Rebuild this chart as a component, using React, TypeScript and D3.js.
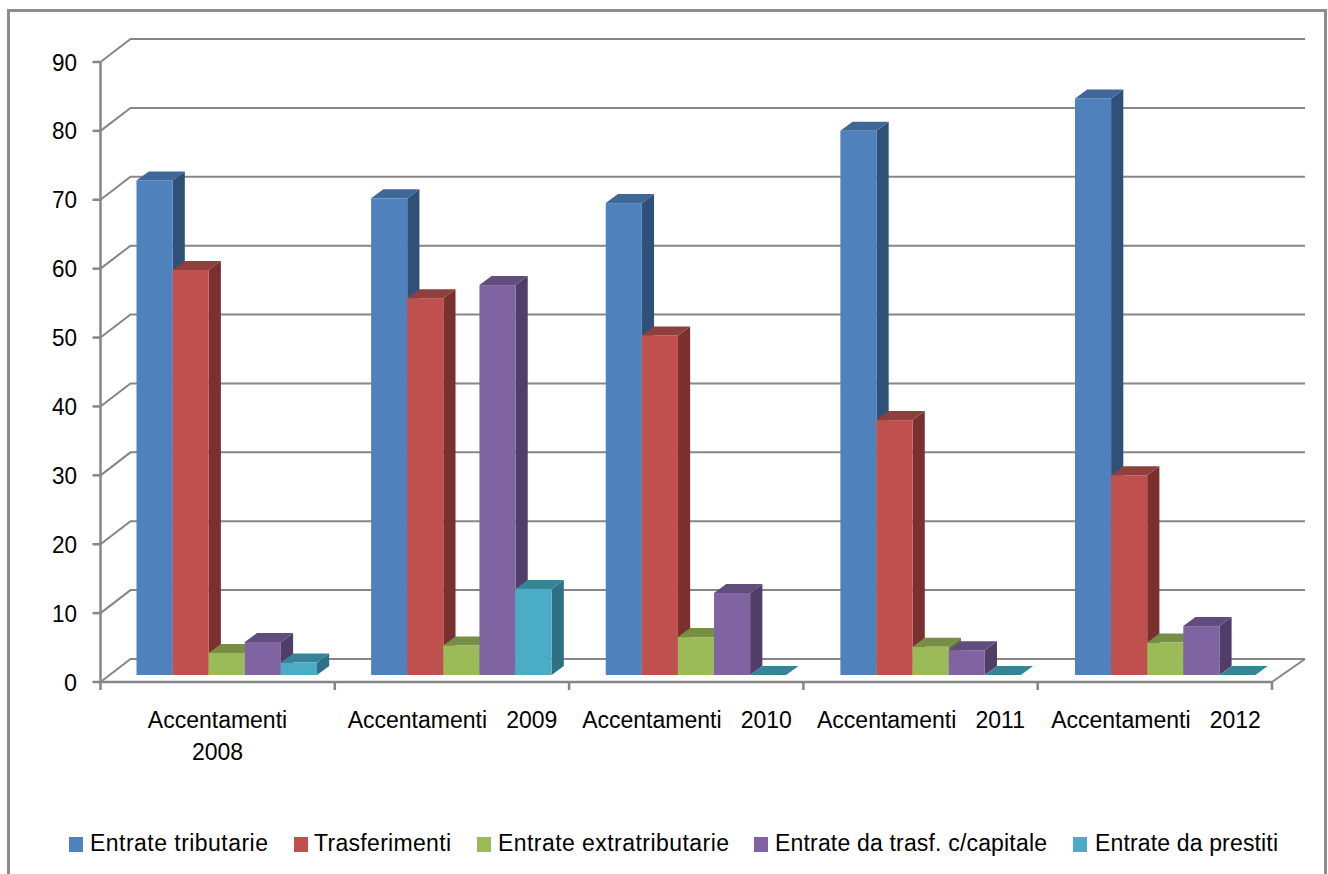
import React from "react";
import * as d3 from "d3";

const categories = ["Accentamenti 2008", "Accentamenti 2009", "Accentamenti 2010", "Accentamenti 2011", "Accentamenti 2012"];
const tributarie = [71.8, 69.2, 68.5, 79, 83.7];
const trasferimenti = [58.8, 54.7, 49.3, 37, 29];
const extratributarie = [3.2, 4.3, 5.5, 4.1, 4.7];
const trasfCapitale = [4.8, 56.6, 11.9, 3.6, 7.1];
const prestiti = [1.8, 12.5, 0, 0, 0];
const yTicks = [0, 10, 20, 30, 40, 50, 60, 70, 80, 90];

const series = [
  { name: "Entrate tributarie", values: tributarie, front: "#4f81bd", top: "#3f6797", side: "#2f5079", sw: 69, tx: 90, tw: 178 },
  { name: "Trasferimenti", values: trasferimenti, front: "#c0504d", top: "#8f3f3c", side: "#7a302e", sw: 294, tx: 314, tw: 137 },
  { name: "Entrate extratributarie", values: extratributarie, front: "#9bbb59", top: "#778f45", side: "#647a38", sw: 477, tx: 498, tw: 231 },
  { name: "Entrate da trasf. c/capitale", values: trasfCapitale, front: "#8064a2", top: "#624c7d", side: "#513e68", sw: 754, tx: 775, tw: 272 },
  { name: "Entrate da prestiti", values: prestiti, front: "#4bacc6", top: "#378499", side: "#2f7184", sw: 1073, tx: 1095, tw: 183 },
];

const W = 1328, H = 874;
const FONT = "'Liberation Sans', Arial, sans-serif";
const GRID = "#868686";

// Oblique projection of the 3D wall and of the column boxes
const wall = { dx: 30, dy: -23 };
const floorInset = -7;
const box = { dx: 12.2, dy: -9 };

const y = d3.scaleLinear().domain([0, 90]).range([682, 62]);
const x = d3.scaleBand<number>().domain(d3.range(categories.length)).range([100.5, 1272]);
// Column clusters sit on a slightly wider pitch than the axis ticks
const cluster = d3.scaleLinear().domain([0, 4]).range([136.5, 1075]);
const barW = 36.1;

const poly = (pts: [number, number][]) => {
  const p = d3.path();
  pts.forEach(([a, b], i) => (i ? p.lineTo(a, b) : p.moveTo(a, b)));
  p.closePath();
  return p.toString();
};

const catLines = [["Accentamenti", "2008"], ["Accentamenti   2009"], ["Accentamenti   2010"], ["Accentamenti   2011"], ["Accentamenti   2012"]];
const catCenters = [217.5, 452.5, 687, 921, 1156];

export default function App() {
  const x0 = x.range()[0];
  const x1 = x.range()[1];
  return (
    <svg width={W} height={H} style={{ position: "absolute", left: 0, top: 0, background: "#fff" }} fontFamily={FONT}>
      <path d={`M8.5,${H}V10.5H1325.5V${H}`} fill="none" stroke="#8c8c8c" strokeWidth={3} />

      {/* back wall gridlines and their diagonal returns */}
      {yTicks.map((t) => (
        <g key={t} stroke={GRID} strokeWidth={2} fill="none">
          <path d={`M${x0},${y(t)}L${x0 + wall.dx},${y(t) + wall.dy}H${x1 + wall.dx + 3}`} />
          <line x1={x0 - 8} x2={x0} y1={y(t)} y2={y(t)} strokeWidth={2.5} />
        </g>
      ))}
      <path d={`M${x1},${y(0)}L${x1 + wall.dx + 3},${y(0) + wall.dy}`} stroke={GRID} strokeWidth={2} fill="none" />

      {/* axes */}
      <line x1={x0} x2={x0} y1={y(90)} y2={y(0) + 8} stroke={GRID} strokeWidth={2.5} />
      <line x1={x0} x2={x1} y1={y(0)} y2={y(0)} stroke={GRID} strokeWidth={2.5} />
      {categories.map((_, i) => (
        <line key={i} x1={x(i)! + x.bandwidth()} x2={x(i)! + x.bandwidth()} y1={y(0)} y2={y(0) + 8} stroke={GRID} strokeWidth={2.5} />
      ))}

      {yTicks.map((t) => (
        <text key={t} x={77} y={y(t) + 8.5} textAnchor="end" fontSize={24} fill="#000" textLength={t === 0 ? 13 : 25} lengthAdjust="spacingAndGlyphs">{t}</text>
      ))}

      {/* columns, painted left to right so each one overlaps its neighbour's side */}
      {categories.map((_, i) =>
        series.map((s, j) => {
          const v = s.values[i];
          const l = cluster(i) + j * barW;
          const r = l + barW;
          const b = y(0) + floorInset;
          const t = y(v) + floorInset;
          return (
            <g key={s.name + i}>
              {v > 0 && <path d={poly([[r, t], [r + box.dx, t + box.dy], [r + box.dx, b + box.dy], [r, b]])} fill={s.side} />}
              <path d={poly([[l, t], [l + box.dx, t + box.dy], [r + box.dx, t + box.dy], [r, t]])} fill={s.top} />
              {v > 0 && <rect x={l} y={t} width={barW} height={b - t} fill={s.front} />}
            </g>
          );
        })
      )}

      {/* category labels */}
      {catLines.map((lines, i) =>
        lines.map((ln, k) => (
          <text key={ln + k} x={catCenters[i]} y={728 + k * 32} textAnchor="middle" fontSize={23} fill="#000" style={{ whiteSpace: "pre" }}>
            {ln}
          </text>
        ))
      )}

      {/* legend */}
      {series.map((s) => (
        <g key={s.name}>
          <rect x={s.sw} y={837} width={14} height={15} fill={s.front} />
          <text x={s.tx} y={851} fontSize={23} fill="#000" textLength={s.tw} lengthAdjust="spacing">{s.name}</text>
        </g>
      ))}
    </svg>
  );
}
